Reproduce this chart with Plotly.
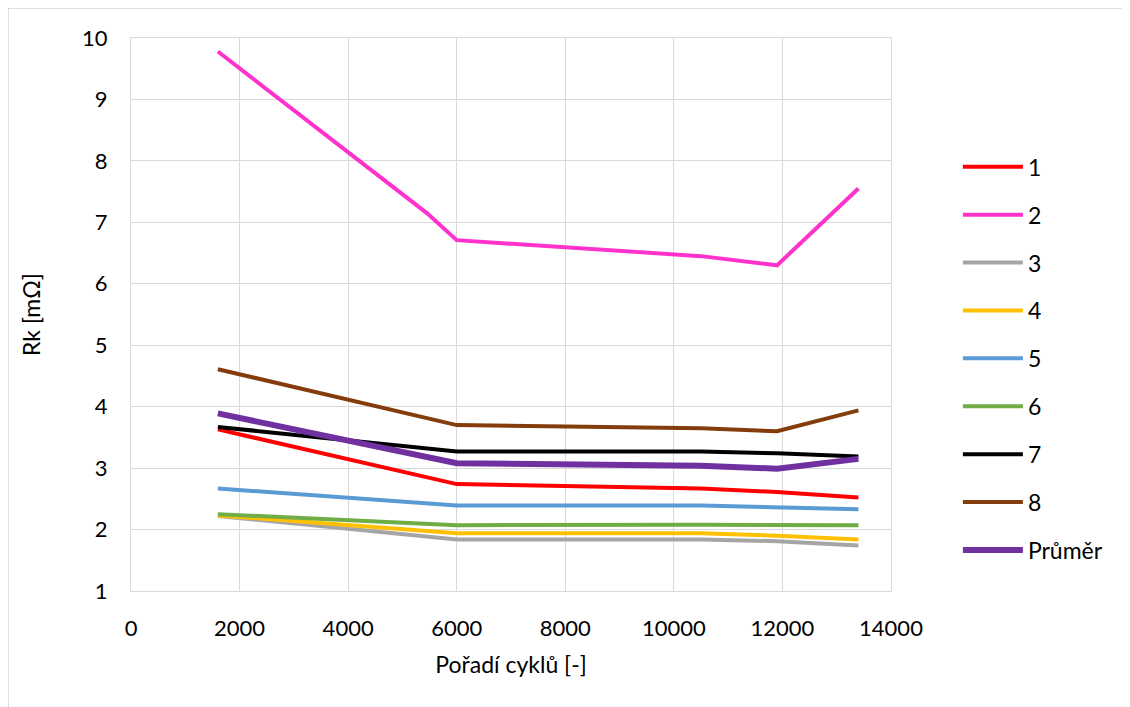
import plotly.graph_objects as go

x_common = [1600, 6000, 10500, 11900, 13400]
x_s2 = [1600, 5450, 6000, 10500, 11900, 13400]

s1 = [3.63, 2.74, 2.67, 2.61, 2.52]
s2 = [9.78, 7.15, 6.71, 6.45, 6.30, 7.55]
s3 = [2.22, 1.84, 1.84, 1.81, 1.74]
s4 = [2.23, 1.94, 1.94, 1.90, 1.84]
s5 = [2.67, 2.39, 2.39, 2.36, 2.33]
s6 = [2.25, 2.07, 2.08, 2.07, 2.07]
s7 = [3.67, 3.27, 3.27, 3.24, 3.19]
s8 = [4.61, 3.70, 3.65, 3.60, 3.94]
prumer = [3.89, 3.08, 3.04, 2.99, 3.15]

names = ["1", "2", "3", "4", "5", "6", "7", "8", "Průměr"]
series = [s1, s2, s3, s4, s5, s6, s7, s8, prumer]
xs = [x_common, x_s2, x_common, x_common, x_common, x_common, x_common, x_common, x_common]
colors = ["#ff0000", "#ff33cc", "#a5a5a5", "#ffc000", "#5b9bd5", "#70ad47", "#000000", "#843c0c", "#7030a0"]
widths = [4, 4, 4, 4, 4, 4, 4, 4, 6]

FONT = "Lato"
TICK = 22
TXT = 23

fig = go.Figure()
for n, xv, yv, c, w in zip(names, xs, series, colors, widths):
    fig.add_trace(go.Scatter(
        x=xv, y=yv, name=n, mode="lines", legendgroup=n,
        line=dict(color=c, width=w),
    ))

grid = "#d9d9d9"
L, T, PW, PH = 123, 30, 760, 553
fig.update_layout(
    width=1130, height=707,
    margin=dict(l=L, r=1130 - L - PW, t=T, b=707 - T - PH, autoexpand=False),
    paper_bgcolor="white", plot_bgcolor="white",
    font=dict(family=FONT, size=TXT, color="#000000"),
    showlegend=True,
    legend=dict(
        x=1.088, xanchor="left", xref="paper",
        y=0.806, yanchor="top",
        font=dict(family=FONT, size=TXT, color="#000000"),
        tracegroupgap=15, itemwidth=60,
        bgcolor="rgba(0,0,0,0)",
    ),
    xaxis=dict(
        range=[0, 14000], dtick=2000, tick0=0, tickformat="d",
        showgrid=True, gridcolor=grid, gridwidth=1,
        showline=True, linecolor=grid, mirror=True,
        zeroline=False, ticks="", ticklabelstandoff=18,
        tickfont=dict(family=FONT, size=TICK),
        title=dict(text="Pořadí cyklů [-]", font=dict(family=FONT, size=TXT), standoff=16),
    ),
    yaxis=dict(
        range=[1, 10], dtick=1, tick0=1,
        showgrid=True, gridcolor=grid, gridwidth=1,
        showline=True, linecolor=grid, mirror=True,
        zeroline=False, ticks="", ticklabelstandoff=18,
        tickfont=dict(family=FONT, size=TICK),
        title=dict(text="Rk [mΩ]", font=dict(family=FONT, size=TXT), standoff=35),
    ),
)

fig.add_shape(type="rect", xref="paper", yref="paper",
              x0=-L / PW, x1=(1130 - L) / PW + 0.01, y0=-(707 - T - PH) / PH - 0.01, y1=(T + PH) / PH,
              line=dict(color="#bfbfbf", width=1), fillcolor="rgba(0,0,0,0)", layer="below")

fig.write_html("out.html")
